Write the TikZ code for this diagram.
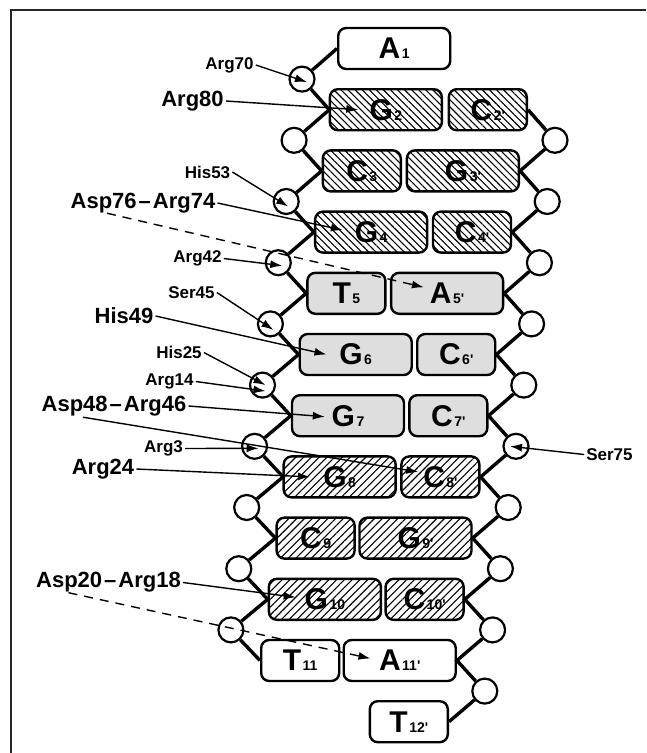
\documentclass[tikz,border=0pt]{standalone}
\usepackage{fontspec}
\setmainfont{Liberation Sans}
\usetikzlibrary{positioning,arrows.meta,patterns.meta}
\tikzset{
base/.style={
  draw,
  line width=2.4pt,
  rounded corners=8pt,
  minimum height=41pt,
  inner sep=0pt,
  font=\bfseries
  },
pur/.style={base, minimum width=112pt},
pyr/.style={base, minimum width=78pt},
hatchl/.style={pattern={Lines[angle=-45,distance=5pt,line width=1.1pt]}},
hatchr/.style={pattern={Lines[angle=45,distance=5.5pt,line width=1.1pt]}},
stip/.style={fill=black!13},
phos/.style={circle, draw, fill=white, line width=2.2pt, minimum size=25pt, inner sep=0pt},
bb/.style={line width=3.4pt, line join=miter},
lbl/.style={font=\bfseries\fontsize{17}{17}\selectfont, inner sep=2pt},
biglbl/.style={font=\bfseries\fontsize{22}{22}\selectfont, inner sep=2pt},
pointer/.style={line width=1.4pt, ->},
contact/.style={pointer, dash pattern=on 9pt off 7pt}
}
\newcommand{\nuc}[2]{{\fontsize{30}{30}\selectfont #1}\kern1.5pt{\fontsize{14}{14}\selectfont #2}}
\newcommand{\pr}{\textquotesingle}

\begin{document}
\begin{tikzpicture}[x=1pt, y=-1pt, >={Latex[length=12pt,width=8pt]}]
\useasboundingbox (0,0) rectangle (646,753);
\draw[line width=1.4pt, black!85] (11,753) -- (11,10) -- (646,10);

% strand 1 (left) and strand 2 (right)
\node[pur, anchor=west] (b1) at (337,48.5) {\nuc{A}{1}};
\node[pur, hatchl, anchor=west] (b2) at (329.3,109.7) {\nuc{G}{2}};
\node[pyr, hatchl, anchor=east] (b2p) at (528,109.7) {\nuc{C}{2\pr}};
\node[pyr, hatchl, anchor=west] (b3) at (321.6,170.9) {\nuc{C}{3}};
\node[pur, hatchl, anchor=east] (b3p) at (520.1,170.9) {\nuc{G}{3\pr}};
\node[pur, hatchl, anchor=west] (b4) at (313.9,232.1) {\nuc{G}{4}};
\node[pyr, hatchl, anchor=east] (b4p) at (512.2,232.1) {\nuc{C}{4\pr}};
\node[pyr, stip, anchor=west] (b5) at (306.2,293.3) {\nuc{T}{5}};
\node[pur, stip, anchor=east] (b5p) at (504.3,293.3) {\nuc{A}{5\pr}};
\node[pur, stip, anchor=west] (b6) at (298.5,354.5) {\nuc{G}{6}};
\node[pyr, stip, anchor=east] (b6p) at (496.4,354.5) {\nuc{C}{6\pr}};
\node[pur, stip, anchor=west] (b7) at (290.8,415.7) {\nuc{G}{7}};
\node[pyr, stip, anchor=east] (b7p) at (488.5,415.7) {\nuc{C}{7\pr}};
\node[pur, hatchr, anchor=west] (b8) at (283.1,476.9) {\nuc{G}{8}};
\node[pyr, hatchr, anchor=east] (b8p) at (480.6,476.9) {\nuc{C}{8\pr}};
\node[pyr, hatchr, anchor=west] (b9) at (275.4,538.1) {\nuc{C}{9}};
\node[pur, hatchr, anchor=east] (b9p) at (472.7,538.1) {\nuc{G}{9\pr}};
\node[pur, hatchr, anchor=west] (b10) at (267.7,599.3) {\nuc{G}{10}};
\node[pyr, hatchr, anchor=east] (b10p) at (464.8,599.3) {\nuc{C}{10\pr}};
\node[pyr, anchor=west] (b11) at (260,660.5) {\nuc{T}{11}};
\node[pur, anchor=east] (b11p) at (456.9,660.5) {\nuc{A}{11\pr}};
\node[pyr, anchor=east] (b12p) at (449,721.7) {\nuc{T}{12\pr}};

% phosphates
\node[phos] (lc1) at (302,79.1) {};
\node[phos] (lc2) at (294.1,140.3) {};
\node[phos] (lc3) at (286.2,201.5) {};
\node[phos] (lc4) at (278.3,262.7) {};
\node[phos] (lc5) at (270.4,323.9) {};
\node[phos] (lc6) at (262.5,385.1) {};
\node[phos] (lc7) at (254.6,446.3) {};
\node[phos] (lc8) at (246.7,507.5) {};
\node[phos] (lc9) at (238.8,568.7) {};
\node[phos] (lc10) at (230.9,629.9) {};
\node[phos] (rc2) at (555,140.3) {};
\node[phos] (rc3) at (547.2,201.5) {};
\node[phos] (rc4) at (539.4,262.7) {};
\node[phos] (rc5) at (531.6,323.9) {};
\node[phos] (rc6) at (523.8,385.1) {};
\node[phos] (rc7) at (516,446.3) {};
\node[phos] (rc8) at (508.2,507.5) {};
\node[phos] (rc9) at (500.4,568.7) {};
\node[phos] (rc10) at (492.6,629.9) {};
\node[phos] (rc11) at (484.8,691.1) {};

\draw[bb] (b1.west) -- (lc1) -- (b2.west) -- (lc2) -- (b3.west) -- (lc3)
  -- (b4.west) -- (lc4) -- (b5.west) -- (lc5) -- (b6.west) -- (lc6)
  -- (b7.west) -- (lc7) -- (b8.west) -- (lc8) -- (b9.west) -- (lc9)
  -- (b10.west) -- (lc10) -- (b11.west);
\draw[bb] (b2p.east) -- (rc2) -- (b3p.east) -- (rc3) -- (b4p.east) -- (rc4)
  -- (b5p.east) -- (rc5) -- (b6p.east) -- (rc6) -- (b7p.east) -- (rc7)
  -- (b8p.east) -- (rc8) -- (b9p.east) -- (rc9) -- (b10p.east) -- (rc10)
  -- (b11p.east) -- (rc11) -- (b12p.east);

% protein contacts
\node[lbl] (arg70) at (229.5,65) {Arg70};
\node[biglbl] (arg80) at (192.5,101) {Arg80};
\node[lbl] (his53) at (207.5,172) {His53};
\node[biglbl] (asp76) at (143,203) {Asp76\kern2pt–\kern2pt Arg74};
\node[lbl] (arg42) at (197.5,258.5) {Arg42};
\node[lbl] (ser45) at (191.5,292.5) {Ser45};
\node[biglbl] (his49) at (124,316) {His49};
\node[lbl] (his25) at (179,352.5) {His25};
\node[lbl] (arg14) at (169.5,381.5) {Arg14};
\node[biglbl] (asp48) at (114,406) {Asp48\kern2pt–\kern2pt Arg46};
\node[lbl] (arg3) at (163.5,448.5) {Arg3};
\node[biglbl] (arg24) at (103,469) {Arg24};
\node[biglbl] (asp20) at (108.5,582.5) {Asp20\kern2pt–\kern2pt Arg18};
\node[lbl] (ser75) at (609.5,454.5) {Ser75};

\draw[pointer] (arg70.east) -- ([shift={(5,3)}]lc1.center);
\draw[pointer] (arg80.east) -- ([shift={(29,0)}]b2.west);
\draw[pointer] (his53.east) -- ([shift={(2,5)}]lc3.center);
\draw[pointer] (asp76.east) -- ([shift={(29,-2)}]b4.west);
\draw[contact] ([shift={(-36,-2)}]asp76.south) -- ([shift={(34,-6)}]b5p.west);
\draw[pointer] (arg42.east) -- ([shift={(4,3)}]lc4.center);
\draw[pointer] (ser45.east) -- ([shift={(3,6)}]lc5.center);
\draw[pointer] (his49.east) -- ([shift={(28,0)}]b6.west);
\draw[pointer] (his25.east) -- ([shift={(3,0)}]lc6.center);
\draw[pointer] (arg14.east) -- ([shift={(3,6)}]lc6.center);
\draw[pointer] (asp48.east) -- ([shift={(34,1)}]b7.west);
\draw[pointer] ([shift={(-31,-1)}]asp48.south) -- ([shift={(18,-5)}]b8p.west);
\draw[pointer] (arg3.east) -- ([shift={(4,2)}]lc7.center);
\draw[pointer] (arg24.east) -- ([shift={(27,0)}]b8.west);
\draw[pointer] (asp20.east) -- ([shift={(28,-2)}]b10.west);
\draw[contact] ([shift={(-40,-2)}]asp20.south) -- ([shift={(28,-2)}]b11p.west);
\draw[pointer] (ser75.west) -- ([shift={(-6,0)}]rc7.center);
\end{tikzpicture}
\end{document}
